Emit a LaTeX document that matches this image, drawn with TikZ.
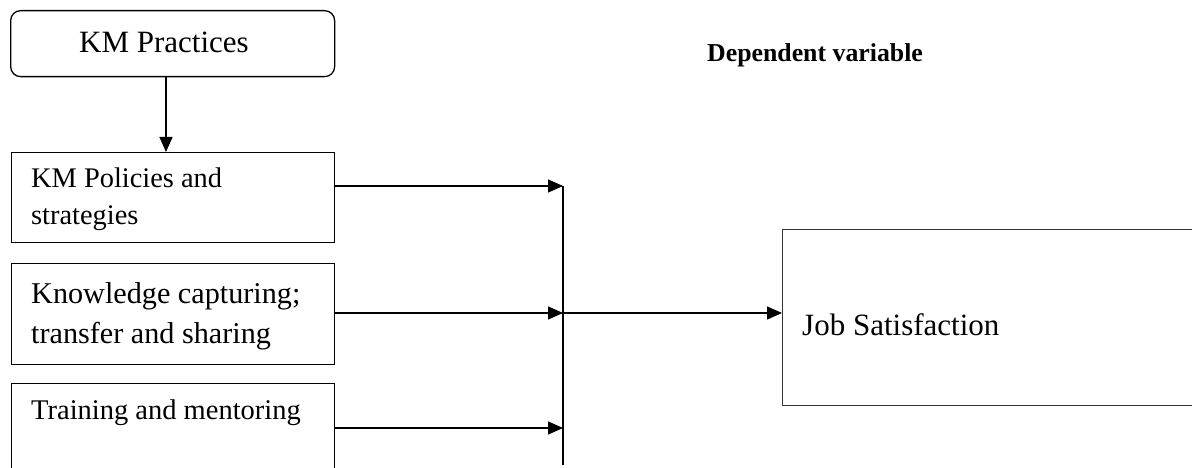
\documentclass[tikz,border=0pt]{standalone}
\usepackage{fontspec}
\setmainfont{Liberation Serif}
\usetikzlibrary{arrows.meta}

\tikzset{
  box/.style={draw=black, line width=1.3pt, inner sep=0pt, anchor=north west},
  lbl/.style={inner sep=0pt, anchor=base west, text=black},
  arr/.style={line width=1.3pt, -{Triangle[length=15pt,width=13pt]}},
  wire/.style={line width=1.3pt},
}

\begin{document}
\begin{tikzpicture}[x=1pt, y=-1pt]
  \useasboundingbox (0,0) rectangle (1192,468);
  \clip (0,0) rectangle (1192,468);

  % top rounded box
  \node[box, rounded corners=10pt, minimum width=324pt, minimum height=66pt] (km) at (10,10) {};
  \node[lbl, font=\fontsize{31}{37}\selectfont] (kmt) at (79,53) {KM Practices};

  % independent variable boxes
  \node[box, minimum width=323pt, minimum height=90pt] (b1) at (11,152) {};
  \node[lbl, font=\fontsize{28.4}{37}\selectfont] (b1a) at (31,188) {KM Policies and};
  \node[lbl, font=\fontsize{28.4}{37}\selectfont] (b1b) at (31,225) {strategies};

  \node[box, minimum width=323pt, minimum height=101pt] (b2) at (11,263) {};
  \node[lbl, font=\fontsize{30.2}{40}\selectfont] (b2a) at (31,303) {Knowledge capturing;};
  \node[lbl, font=\fontsize{30.2}{40}\selectfont] (b2b) at (31,343) {transfer and sharing};

  \node[box, minimum width=323pt, minimum height=100pt] (b3) at (11,383) {};
  \node[lbl, font=\fontsize{28.5}{37}\selectfont] (b3a) at (31,419) {Training and mentoring};

  % dependent variable
  \node[lbl, font=\bfseries\fontsize{25.8}{31}\selectfont] (dv) at (707,62) {Dependent variable};
  \node[box, draw=black!80, minimum width=430pt, minimum height=176pt] (job) at (782,229) {};
  \node[lbl, font=\fontsize{31}{37}\selectfont] (jobt) at (802,335) {Job Satisfaction};

  % junction points on the collecting line
  \coordinate (jt) at (563,186);
  \coordinate (jm) at (563,313);
  \coordinate (jb) at (563,428);
  \coordinate (je) at (563,465);

  % connectors
  \draw[arr] ([xshift=156pt]km.south west) -- ([xshift=155pt]b1.north west);
  \draw[arr] (b1.east |- jt) -- (jt);
  \draw[arr] (b2.east |- jm) -- (jm);
  \draw[arr] (b3.east |- jb) -- (jb);
  \draw[wire] (jt) -- (je);
  \draw[arr] (jm) -- (job.west |- jm);
\end{tikzpicture}
\end{document}
